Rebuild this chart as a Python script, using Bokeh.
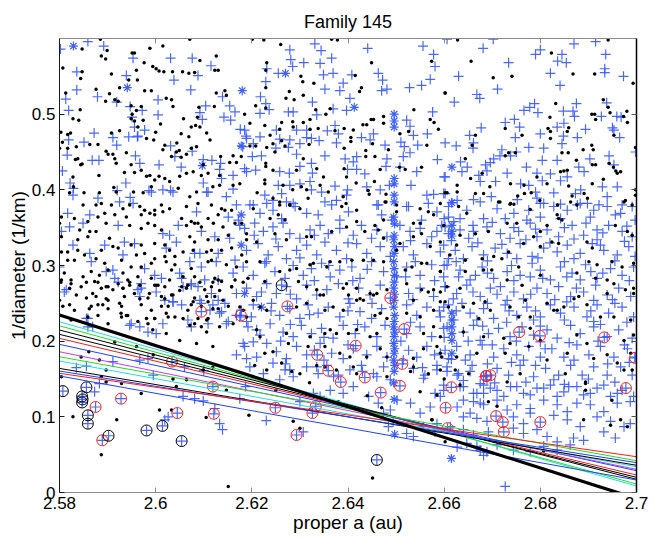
from bokeh.plotting import figure
from bokeh.models import Range1d, LinearAxis, FixedTicker
from bokeh.embed import file_html
from bokeh.resources import INLINE

TITLE = "Family 145"
X_LABEL = "proper a (au)"
Y_LABEL = "1/diameter (1/km)"
x_ticks = [2.58, 2.6, 2.62, 2.64, 2.66, 2.68, 2.7]
x_tick_labels = ["2.58", "2.6", "2.62", "2.64", "2.66", "2.68", "2.7"]
y_ticks = [0.0, 0.1, 0.2, 0.3, 0.4, 0.5]
y_tick_labels = ["0", "0.1", "0.2", "0.3", "0.4", "0.5"]

# ---- black dots (read region by region) ----
dots_top_left = [
(2.5885,0.599),(2.6071,0.599),(2.5847,0.586),(2.5899,0.584),(2.6015,0.590),(2.5988,0.587),(2.5951,0.581),(2.5956,0.581),
(2.5887,0.577),(2.5896,0.573),(2.5976,0.568),(2.6092,0.571),(2.6126,0.577),(2.6123,0.558),(2.6130,0.558),(2.5807,0.561),
(2.5847,0.556),(2.5844,0.547),(2.5908,0.553),(2.5960,0.558),(2.5994,0.563),(2.6001,0.560),(2.6007,0.557),(2.6017,0.556),
(2.6035,0.556),(2.6056,0.556),(2.6069,0.554),(2.6081,0.555),(2.5944,0.545),(2.5962,0.545),(2.5925,0.535),(2.5977,0.531),
(2.5991,0.531),(2.5813,0.528),(2.5876,0.533),(2.5904,0.527),(2.5896,0.517),(2.5915,0.519),(2.5922,0.517),(2.5949,0.511),
(2.5960,0.505),(2.5951,0.500),(2.5970,0.510),(2.6022,0.521),(2.6033,0.519),(2.6036,0.510),(2.6058,0.494),(2.6074,0.483),
(2.6083,0.485),(2.6087,0.496),(2.6090,0.509),(2.6122,0.510),(2.6126,0.528),(2.6144,0.531),(2.6147,0.525),(2.5843,0.506),
(2.5840,0.492),(2.5828,0.494),(2.5803,0.476),(2.5806,0.463),(2.5817,0.473),(2.5823,0.475),(2.5835,0.457),(2.5844,0.433),
(2.5847,0.434),(2.5833,0.440),(2.5800,0.455),(2.5817,0.455),(2.5838,0.441),(2.5863,0.460),(2.5880,0.460),(2.5897,0.451),
(2.5901,0.447),(2.5908,0.475),(2.5925,0.478),(2.5949,0.494),(2.5956,0.491),(2.5963,0.483),(2.5974,0.492),(2.5981,0.468),
(2.5996,0.466),(2.6000,0.476),(2.6010,0.487),(2.6015,0.453),(2.6019,0.459),(2.6043,0.450),(2.6033,0.444),(2.6044,0.462),
(2.6049,0.452),(2.6053,0.443),(2.6064,0.447),(2.6074,0.455),(2.6053,0.474),(2.6069,0.470),(2.6085,0.457),(2.6092,0.483),
(2.6106,0.475),(2.6113,0.466),(2.6135,0.444),(2.6154,0.436),(2.6161,0.445),(2.6168,0.436),(2.6178,0.444),(2.6099,0.433),
(2.6109,0.422),(2.6133,0.419),(2.5911,0.447),(2.5915,0.441),(2.5918,0.435),(2.5939,0.449),(2.5949,0.433),(2.5956,0.423),
(2.5935,0.423),(2.5970,0.426),(2.5981,0.418),(2.5988,0.419),(2.5998,0.413),(2.6007,0.418),(2.6019,0.415),(2.6029,0.411),
(2.6050,0.418),(2.6064,0.422),(2.6078,0.424),(2.6095,0.419),(2.5882,0.419),(2.5883,0.396),(2.5828,0.417),(2.5829,0.404),
(2.5821,0.396),(2.5851,0.396),(2.5913,0.403),(2.5918,0.397),(2.5954,0.397),(2.5974,0.396),(2.5991,0.404),(2.6047,0.402),
(2.6071,0.391),(2.6085,0.397),(2.6119,0.404),(2.6133,0.406),(2.6161,0.406),(2.6175,0.408),
]
dots_top_mid = [
(2.6201,0.599),(2.6225,0.598),(2.6260,0.592),(2.6366,0.599),(2.6378,0.598),(2.6231,0.568),(2.6229,0.558),(2.6229,0.535),
(2.6302,0.550),(2.6306,0.543),(2.6329,0.541),(2.6278,0.530),(2.6271,0.521),(2.6288,0.519),(2.6307,0.525),(2.6208,0.511),
(2.6185,0.500),(2.6229,0.508),(2.6262,0.489),(2.6285,0.490),(2.6307,0.489),(2.6321,0.493),(2.6333,0.506),(2.6363,0.507),
(2.6354,0.500),(2.6338,0.481),(2.6321,0.480),(2.6286,0.483),(2.6258,0.480),(2.6196,0.488),(2.6227,0.485),(2.6238,0.472),
(2.6244,0.461),(2.6262,0.465),(2.6269,0.458),(2.6248,0.450),(2.6196,0.458),(2.6208,0.458),(2.6231,0.456),(2.6373,0.478),
(2.6392,0.481),(2.6411,0.479),(2.6406,0.469),(2.6406,0.464),(2.6431,0.486),(2.6448,0.493),(2.6453,0.493),(2.6439,0.486),
(2.6474,0.497),(2.6474,0.488),(2.6415,0.551),(2.6424,0.530),(2.6428,0.535),(2.6449,0.568),(2.6537,0.506),(2.6571,0.493),
(2.6579,0.489),(2.6588,0.480),(2.6602,0.528),(2.6574,0.570),(2.6564,0.459),(2.6526,0.477),(2.6508,0.474),(2.6484,0.453),
(2.6451,0.461),(2.6437,0.452),(2.6437,0.444),(2.6456,0.444),(2.6392,0.455),(2.6319,0.460),(2.6307,0.441),(2.6229,0.435),
(2.6229,0.431),(2.6244,0.426),(2.6293,0.426),(2.6335,0.428),(2.6392,0.428),(2.6397,0.417),(2.6417,0.409),(2.6455,0.411),
(2.6467,0.427),(2.6507,0.430),(2.6519,0.427),(2.6553,0.430),(2.6227,0.413),(2.6227,0.408),(2.6265,0.406),(2.6285,0.400),
(2.6303,0.404),(2.6314,0.400),(2.6342,0.406),(2.6349,0.417),(2.6359,0.397),(2.6390,0.391),(2.6442,0.399),(2.6444,0.394),
(2.6479,0.394),(2.6501,0.380),(2.6479,0.384),(2.6211,0.396),(2.6244,0.389),(2.6258,0.384),(2.6279,0.380),(2.6317,0.389),
(2.6396,0.382),(2.6550,0.375),(2.6592,0.382),(2.6606,0.396),
]
dots_top_right = [
(2.6628,0.598),(2.6941,0.598),(2.6656,0.570),(2.6702,0.548),(2.6741,0.550),(2.6602,0.528),(2.6823,0.581),(2.6868,0.553),
(2.6913,0.553),(2.6993,0.541),(2.6931,0.519),(2.6941,0.509),(2.6945,0.502),(2.6973,0.497),(2.6980,0.504),(2.6981,0.489),
(2.6907,0.500),(2.6913,0.500),(2.6915,0.493),(2.6832,0.514),(2.6820,0.496),(2.6816,0.481),(2.6821,0.477),(2.6821,0.468),
(2.6856,0.477),(2.6859,0.482),(2.6727,0.481),(2.6762,0.472),(2.6665,0.472),(2.6658,0.459),(2.6734,0.449),(2.6727,0.445),
(2.6748,0.449),(2.6845,0.449),(2.6858,0.449),(2.6889,0.453),(2.6907,0.459),(2.6910,0.453),(2.6875,0.439),(2.6908,0.433),
(2.6915,0.433),(2.6943,0.435),(2.6952,0.430),(2.6957,0.425),(2.6960,0.422),(2.6967,0.424),(2.6998,0.456),(2.6953,0.472),
(2.6644,0.441),(2.6655,0.415),(2.6679,0.422),(2.6695,0.404),(2.6738,0.408),(2.6766,0.406),(2.6793,0.417),(2.6814,0.408),
(2.6842,0.424),(2.6849,0.425),(2.6856,0.426),(2.6859,0.405),(2.6908,0.408),(2.6931,0.414),(2.6627,0.406),(2.6627,0.397),
(2.6602,0.396),(2.6665,0.395),(2.6682,0.395),(2.6767,0.395),(2.6781,0.396),(2.6753,0.392),(2.6799,0.386),(2.6836,0.380),
(2.6866,0.392),(2.6891,0.395),(2.6898,0.389),(2.6977,0.386),(2.6998,0.400),(2.6998,0.393),(2.6738,0.382),(2.6716,0.384),
]
dots_mid_left = [
(2.5849,0.380),(2.5876,0.380),(2.5887,0.382),(2.5908,0.380),(2.5932,0.375),(2.5946,0.380),(2.5967,0.378),(2.5977,0.373),
(2.5998,0.373),(2.6012,0.380),(2.6029,0.375),(2.6064,0.378),(2.6088,0.382),(2.6116,0.380),(2.6137,0.375),(2.6158,0.373),
(2.5804,0.364),(2.5831,0.362),(2.5859,0.358),(2.5880,0.364),(2.5894,0.369),(2.5915,0.367),(2.5939,0.364),(2.5970,0.367),
(2.5988,0.369),(2.5998,0.367),(2.6015,0.371),(2.6054,0.362),(2.6074,0.358),(2.6088,0.356),(2.6109,0.362),(2.6130,0.367),
(2.6144,0.373),(2.5800,0.356),(2.5842,0.347),(2.5863,0.345),(2.5876,0.345),(2.5897,0.356),(2.5946,0.353),(2.5970,0.349),
(2.5984,0.356),(2.5998,0.353),(2.6012,0.347),(2.6064,0.353),(2.6081,0.356),(2.6095,0.351),(2.6120,0.356),(2.6140,0.351),
(2.6165,0.356),(2.6179,0.356),(2.5804,0.338),(2.5838,0.334),(2.5859,0.338),(2.5904,0.336),(2.5911,0.325),(2.5949,0.327),
(2.5970,0.327),(2.5998,0.329),(2.6019,0.327),(2.6029,0.320),(2.6071,0.338),(2.6081,0.331),(2.6109,0.334),(2.6130,0.334),
(2.6151,0.340),(2.5804,0.318),(2.5817,0.318),(2.5838,0.320),(2.5887,0.320),(2.5922,0.323),(2.5960,0.314),(2.5977,0.316),
(2.5998,0.309),(2.6019,0.312),(2.6040,0.312),(2.6057,0.318),(2.6078,0.320),(2.6106,0.318),(2.6116,0.320),(2.6137,0.320),
(2.6158,0.323),(2.6179,0.314),(2.5810,0.290),(2.5817,0.307),(2.5831,0.307),(2.5852,0.314),(2.5876,0.309),(2.5894,0.303),
(2.5929,0.307),(2.5949,0.298),(2.5970,0.298),(2.5991,0.303),(2.6022,0.305),(2.6040,0.301),(2.6074,0.296),(2.6109,0.305),
(2.6116,0.307),(2.6147,0.301),(2.6168,0.298),(2.5804,0.281),(2.5824,0.281),(2.5849,0.285),(2.5866,0.292),(2.5883,0.287),
(2.5901,0.294),(2.5932,0.290),(2.5942,0.281),(2.5963,0.285),(2.5991,0.283),(2.5998,0.274),(2.6005,0.274),(2.6029,0.281),
(2.6033,0.294),(2.6057,0.285),(2.6081,0.285),(2.6123,0.283),(2.6130,0.281),(2.6137,0.279),(2.6165,0.281),(2.5821,0.270),
(2.5845,0.272),(2.5873,0.279),(2.5887,0.270),(2.5901,0.272),(2.5911,0.268),(2.5922,0.276),(2.5932,0.270),(2.5946,0.274),
(2.6019,0.272),(2.6054,0.272),(2.6067,0.274),(2.6102,0.268),(2.6116,0.272),(2.6158,0.272),(2.5800,0.254),(2.5835,0.261),
(2.5856,0.257),(2.5876,0.259),(2.5901,0.254),(2.5935,0.259),(2.5956,0.263),(2.5984,0.257),(2.6012,0.259),(2.6033,0.261),
(2.6081,0.257),(2.6109,0.252),(2.6123,0.259),(2.5807,0.246),(2.5831,0.241),(2.5866,0.246),(2.5880,0.248),(2.5901,0.243),
(2.5929,0.246),(2.5970,0.248),(2.5991,0.241),(2.6012,0.246),(2.6026,0.246),(2.6067,0.241),(2.6074,0.248),(2.6095,0.246),
(2.6130,0.243),(2.6151,0.246),(2.5824,0.228),(2.5859,0.232),(2.5880,0.234),(2.5929,0.232),(2.5939,0.234),(2.5998,0.230),
(2.6026,0.232),(2.6040,0.232),(2.6088,0.230),(2.6109,0.230),(2.5901,0.223),(2.5963,0.226),(2.5984,0.223),(2.6081,0.223),
(2.6095,0.219),
]
dots_mid_centre = [
(2.6203,0.375),(2.6258,0.380),(2.6279,0.380),(2.6300,0.375),(2.6255,0.367),(2.6269,0.360),(2.6238,0.362),(2.6387,0.378),
(2.6418,0.373),(2.6418,0.358),(2.6456,0.353),(2.6477,0.384),(2.6474,0.360),(2.6501,0.371),(2.6536,0.356),(2.6550,0.356),
(2.6567,0.371),(2.6578,0.367),(2.6599,0.353),(2.6189,0.342),(2.6189,0.334),(2.6210,0.331),(2.6248,0.342),(2.6272,0.334),
(2.6314,0.338),(2.6324,0.338),(2.6366,0.345),(2.6397,0.351),(2.6435,0.345),(2.6463,0.347),(2.6474,0.336),(2.6501,0.320),
(2.6508,0.329),(2.6536,0.338),(2.6553,0.342),(2.6571,0.325),(2.6592,0.331),(2.6189,0.305),(2.6217,0.305),(2.6258,0.292),
(2.6279,0.294),(2.6293,0.296),(2.6321,0.301),(2.6328,0.303),(2.6356,0.298),(2.6363,0.305),(2.6383,0.305),(2.6408,0.307),
(2.6432,0.307),(2.6453,0.307),(2.6474,0.305),(2.6519,0.294),(2.6533,0.298),(2.6553,0.303),(2.6564,0.303),(2.6592,0.292),
(2.6192,0.283),(2.6227,0.279),(2.6297,0.279),(2.6314,0.272),(2.6335,0.268),(2.6342,0.261),(2.6349,0.261),(2.6397,0.276),
(2.6390,0.270),(2.6401,0.261),(2.6418,0.270),(2.6425,0.256),(2.6432,0.254),(2.6446,0.263),(2.6453,0.261),(2.6460,0.263),
(2.6481,0.268),(2.6522,0.276),(2.6536,0.254),(2.6553,0.268),(2.6567,0.265),(2.6578,0.268),(2.6592,0.265),(2.6182,0.241),
(2.6217,0.245),(2.6231,0.241),(2.6293,0.245),(2.6314,0.250),(2.6352,0.241),(2.6369,0.245),(2.6390,0.241),(2.6418,0.254),
(2.6456,0.234),(2.6467,0.237),(2.6481,0.230),(2.6522,0.237),(2.6550,0.232),(2.6578,0.241),(2.6592,0.252),(2.6609,0.245),
(2.6217,0.206),(2.6272,0.210),(2.6321,0.206),(2.6352,0.210),(2.6363,0.215),(2.6376,0.210),(2.6401,0.210),(2.6418,0.215),
(2.6446,0.206),(2.6460,0.210),(2.6557,0.210),(2.6578,0.219),(2.6592,0.206),(2.6227,0.184),(2.6244,0.186),(2.6276,0.197),
(2.6317,0.193),(2.6352,0.193),(2.6383,0.184),(2.6404,0.179),(2.6439,0.179),(2.6467,0.190),(2.6481,0.179),(2.6536,0.177),
(2.6557,0.190),(2.6585,0.193),(2.6595,0.179),(2.6206,0.168),(2.6231,0.162),(2.6262,0.171),(2.6283,0.160),(2.6300,0.157),
(2.6335,0.168),(2.6352,0.166),(2.6376,0.162),(2.6411,0.166),(2.6418,0.157),(2.6481,0.153),(2.6536,0.166),(2.6567,0.157),
(2.6592,0.162),
]
dots_mid_right = [
(2.6630,0.378),(2.6647,0.369),(2.6713,0.384),(2.6737,0.381),(2.6745,0.381),(2.6779,0.374),(2.6835,0.367),(2.6838,0.362),
(2.6845,0.360),(2.6863,0.384),(2.6876,0.380),(2.6974,0.384),(2.6991,0.380),(2.6956,0.353),(2.6981,0.345),(2.6991,0.340),
(2.6633,0.340),(2.6665,0.342),(2.6692,0.345),(2.6731,0.356),(2.6751,0.356),(2.6786,0.338),(2.6800,0.345),(2.6814,0.353),
(2.6824,0.331),(2.6838,0.329),(2.6765,0.329),(2.6800,0.325),(2.6897,0.331),(2.6908,0.323),(2.6626,0.327),(2.6612,0.314),
(2.6644,0.307),(2.6679,0.309),(2.6703,0.312),(2.6734,0.318),(2.6755,0.298),(2.6720,0.309),(2.6901,0.305),(2.6918,0.301),
(2.6949,0.305),(2.6970,0.298),(2.6994,0.303),(2.6592,0.292),(2.6644,0.292),(2.6682,0.294),(2.6699,0.294),(2.6731,0.281),
(2.6762,0.274),(2.6800,0.287),(2.6876,0.290),(2.6915,0.283),(2.6939,0.281),(2.6953,0.276),(2.6977,0.268),(2.6994,0.270),
(2.6606,0.272),(2.6633,0.270),(2.6685,0.252),(2.6661,0.250),(2.6602,0.252),(2.6769,0.254),(2.6814,0.250),(2.6870,0.256),
(2.6880,0.259),(2.6897,0.248),(2.6939,0.263),(2.6994,0.263),(2.6640,0.245),(2.6696,0.241),(2.6737,0.245),(2.6755,0.232),
(2.6779,0.232),(2.6828,0.241),(2.6835,0.241),(2.6849,0.245),(2.6925,0.232),(2.6953,0.232),(2.6988,0.228),(2.6672,0.230),
(2.6640,0.212),(2.6682,0.206),(2.6724,0.204),(2.6737,0.197),(2.6779,0.217),(2.6800,0.201),(2.6776,0.193),(2.6876,0.208),
(2.6897,0.197),(2.6974,0.201),(2.6994,0.208),(2.6592,0.184),(2.6626,0.179),(2.6668,0.184),(2.6727,0.184),(2.6814,0.175),
(2.6856,0.184),(2.6911,0.177),(2.6939,0.182),(2.6960,0.171),(2.6988,0.184),(2.6623,0.162),(2.6651,0.157),(2.6731,0.146),
(2.6758,0.157),(2.6852,0.157),(2.6894,0.144),(2.6974,0.162),(2.6991,0.162),
]
dots_low = [
(2.5803,0.278),(2.5824,0.276),(2.5856,0.278),(2.5880,0.278),(2.5897,0.272),(2.5932,0.270),(2.5946,0.278),(2.5967,0.274),
(2.6001,0.274),(2.6064,0.270),(2.6092,0.278),(2.6119,0.278),(2.6133,0.267),(2.6158,0.272),(2.6182,0.278),(2.5869,0.263),
(2.5897,0.256),(2.5925,0.250),(2.5967,0.256),(2.5987,0.263),(2.6019,0.256),(2.6036,0.261),(2.6050,0.267),(2.6078,0.252),
(2.6106,0.259),(2.6119,0.243),(2.6140,0.254),(2.6175,0.245),(2.6203,0.254),(2.5821,0.248),(2.5862,0.243),(2.5890,0.248),
(2.5928,0.237),(2.5942,0.234),(2.5981,0.230),(2.5998,0.230),(2.6022,0.237),(2.6057,0.230),(2.6071,0.221),(2.6106,0.228),
(2.6133,0.219),(2.6161,0.223),(2.6189,0.232),(2.6210,0.215),(2.5994,0.215),(2.6022,0.210),(2.6050,0.201),(2.6085,0.197),
(2.6119,0.193),(2.6106,0.212),
(2.5828,0.100),(2.5887,0.050),(2.5919,0.096),(2.6033,0.109),(2.6105,0.099),(2.6151,0.008),(2.6194,0.102),(2.5861,0.186),
(2.5845,0.179),(2.5883,0.175),(2.5897,0.162),(2.5915,0.199),(2.5960,0.193),(2.5995,0.182),(2.5887,0.153),(2.5897,0.146),
(2.6064,0.149),(2.6099,0.162),(2.6119,0.166),(2.6147,0.135),(2.6043,0.140),(2.6036,0.150),(2.5970,0.131),(2.6008,0.109),
(2.5804,0.153),(2.5929,0.144),
(2.6286,0.094),(2.6300,0.085),(2.6451,0.019),(2.6575,0.096),(2.6602,0.067),(2.6530,0.160),(2.6440,0.128),(2.6380,0.120),
(2.6600,0.150),(2.6250,0.135),(2.6320,0.145),(2.6470,0.112),(2.6550,0.133),
(2.6633,0.142),(2.6894,0.146),(2.6894,0.135),(2.6710,0.114),(2.6692,0.120),(2.6574,0.096),(2.6807,0.055),(2.6890,0.096),
(2.6946,0.089),(2.6967,0.096),(2.6981,0.087),(2.6949,0.122),(2.6585,0.129),
]

# ---- blue plus markers ----
plus_top_left = [
(2.5802,0.586),(2.5859,0.596),(2.5892,0.590),(2.5953,0.574),(2.6031,0.574),(2.6076,0.574),(2.6115,0.564),(2.6088,0.551),
(2.5836,0.556),(2.5836,0.532),(2.5813,0.520),(2.5819,0.505),(2.5939,0.551),(2.6038,0.545),(2.6073,0.532),(2.6005,0.519),
(2.5879,0.523),(2.5919,0.516),(2.5947,0.510),(2.5972,0.505),(2.5951,0.496),(2.5956,0.483),(2.5977,0.479),(2.5963,0.471),
(2.6005,0.499),(2.6092,0.502),(2.6097,0.493),(2.6104,0.511),(2.6139,0.523),(2.6154,0.511),(2.6165,0.503),(2.6142,0.496),
(2.6156,0.492),(2.6176,0.480),(2.6188,0.471),(2.6181,0.457),(2.5872,0.475),(2.5851,0.463),(2.5819,0.466),(2.5816,0.446),
(2.5806,0.425),(2.5868,0.439),(2.5882,0.439),(2.5911,0.469),(2.5919,0.459),(2.5944,0.470),(2.5962,0.470),(2.5958,0.445),
(2.5967,0.435),(2.6007,0.433),(2.6031,0.458),(2.6040,0.444),(2.6053,0.430),(2.6076,0.451),(2.6099,0.440),(2.6117,0.439),
(2.6135,0.435),(2.6133,0.427),(2.6137,0.415),(2.6099,0.409),(2.6106,0.397),(2.5822,0.409),(2.5829,0.402),(2.5920,0.399),
(2.5938,0.409),(2.5947,0.390),(2.5986,0.399),(2.6015,0.400),(2.6031,0.399),(2.6161,0.419),(2.6161,0.401),(2.6189,0.424),
]
plus_top_mid = [
(2.6279,0.585),(2.6331,0.593),(2.6344,0.584),(2.6281,0.572),(2.6285,0.563),(2.6308,0.568),(2.6342,0.567),(2.6366,0.574),
(2.6231,0.560),(2.6255,0.554),(2.6349,0.552),(2.6369,0.554),(2.6408,0.552),(2.6390,0.541),(2.6352,0.533),(2.6383,0.531),
(2.6229,0.543),(2.6404,0.521),(2.6441,0.587),(2.6463,0.554),(2.6472,0.545),(2.6470,0.531),(2.6481,0.533),(2.6528,0.535),
(2.6553,0.538),(2.6571,0.546),(2.6578,0.579),(2.6581,0.563),(2.6556,0.590),(2.6218,0.523),(2.6229,0.514),(2.6236,0.506),
(2.6217,0.501),(2.6326,0.516),(2.6286,0.503),(2.6276,0.503),(2.6335,0.499),(2.6369,0.507),(2.6397,0.505),(2.6251,0.479),
(2.6293,0.479),(2.6314,0.479),(2.6357,0.478),(2.6373,0.485),(2.6380,0.474),(2.6428,0.469),(2.6453,0.474),(2.6446,0.466),
(2.6522,0.492),(2.6529,0.484),(2.6536,0.472),(2.6565,0.474),(2.6576,0.503),(2.6510,0.463),(2.6477,0.459),(2.6517,0.457),
(2.6545,0.459),(2.6185,0.479),(2.6189,0.468),(2.6217,0.470),(2.6203,0.461),(2.6258,0.467),(2.6279,0.466),(2.6314,0.469),
(2.6324,0.468),(2.6340,0.465),(2.6376,0.462),(2.6250,0.455),(2.6276,0.456),(2.6293,0.447),(2.6300,0.461),(2.6201,0.444),
(2.6220,0.445),(2.6352,0.445),(2.6394,0.441),(2.6411,0.437),(2.6418,0.444),(2.6481,0.441),(2.6515,0.444),(2.6529,0.449),
(2.6185,0.428),(2.6208,0.426),(2.6258,0.424),(2.6278,0.422),(2.6300,0.431),(2.6324,0.435),(2.6326,0.422),(2.6399,0.427),
(2.6418,0.427),(2.6435,0.421),(2.6479,0.431),(2.6508,0.430),(2.6543,0.424),(2.6586,0.440),(2.6600,0.417),(2.6255,0.406),
(2.6279,0.406),(2.6300,0.408),(2.6321,0.411),(2.6324,0.400),(2.6345,0.397),(2.6373,0.405),(2.6399,0.400),(2.6439,0.404),
(2.6467,0.400),(2.6486,0.406),(2.6531,0.406),(2.6564,0.393),(2.6578,0.394),(2.6599,0.395),(2.6227,0.393),(2.6231,0.382),
(2.6244,0.386),(2.6262,0.395),(2.6272,0.384),(2.6286,0.382),(2.6352,0.384),(2.6376,0.386),(2.6397,0.393),(2.6460,0.380),
(2.6522,0.378),(2.6567,0.382),(2.6203,0.380),
]
plus_top_right = [
(2.6606,0.599),(2.6702,0.599),(2.6681,0.587),(2.6734,0.568),(2.6630,0.550),(2.6668,0.526),(2.6674,0.521),(2.6711,0.533),
(2.6621,0.516),(2.6870,0.593),(2.6915,0.596),(2.6936,0.579),(2.6934,0.560),(2.6934,0.555),(2.6973,0.550),(2.6790,0.579),
(2.6800,0.585),(2.6845,0.579),(2.6836,0.570),(2.6854,0.568),(2.6821,0.554),(2.6841,0.538),(2.6788,0.514),(2.6766,0.505),
(2.6778,0.509),(2.6795,0.502),(2.6848,0.504),(2.6868,0.504),(2.6871,0.497),(2.6875,0.514),(2.6938,0.515),(2.6927,0.497),
(2.6959,0.497),(2.6968,0.496),(2.6746,0.493),(2.6727,0.489),(2.6757,0.483),(2.6677,0.482),(2.6748,0.469),(2.6800,0.474),
(2.6835,0.483),(2.6849,0.488),(2.6848,0.471),(2.6845,0.461),(2.6877,0.469),(2.6894,0.480),(2.6950,0.482),(2.6953,0.479),
(2.6965,0.469),(2.6943,0.445),(2.6653,0.472),(2.6661,0.462),(2.6660,0.455),(2.6602,0.462),(2.6625,0.458),(2.6720,0.453),
(2.6750,0.450),(2.6738,0.445),(2.6776,0.456),(2.6807,0.455),(2.6804,0.439),(2.6835,0.439),(2.6716,0.445),(2.6703,0.441),
(2.6696,0.436),(2.6686,0.433),(2.6634,0.437),(2.6648,0.430),(2.6637,0.424),(2.6689,0.425),(2.6672,0.419),(2.6731,0.422),
(2.6771,0.430),(2.6793,0.422),(2.6804,0.412),(2.6821,0.421),(2.6842,0.412),(2.6856,0.417),(2.6880,0.430),(2.6891,0.424),
(2.6903,0.441),(2.6953,0.433),(2.6960,0.404),(2.6929,0.404),(2.6884,0.400),(2.6873,0.395),(2.6602,0.417),(2.6675,0.411),
(2.6707,0.411),(2.6759,0.408),(2.6776,0.406),(2.6790,0.397),(2.6828,0.396),(2.6602,0.395),(2.6627,0.386),(2.6661,0.387),
(2.6698,0.391),(2.6752,0.387),(2.6793,0.389),(2.6807,0.382),(2.6842,0.381),(2.6877,0.380),(2.6898,0.382),(2.6922,0.380),
(2.6939,0.391),(2.6970,0.380),(2.6998,0.450),(2.6609,0.378),
]
plus_mid_left = [
(2.5828,0.393),(2.5880,0.389),(2.5925,0.384),(2.5953,0.382),(2.5991,0.397),(2.6036,0.397),(2.6109,0.397),(2.6147,0.391),
(2.6168,0.380),(2.5817,0.369),(2.5863,0.367),(2.5804,0.345),(2.5821,0.351),(2.5849,0.356),(2.5922,0.353),(2.6047,0.353),
(2.6085,0.371),(2.6095,0.345),(2.6151,0.364),(2.6172,0.360),(2.6175,0.353),(2.6123,0.338),(2.6154,0.336),(2.5894,0.327),
(2.5935,0.331),(2.5956,0.329),(2.5828,0.327),(2.5863,0.316),(2.5932,0.314),(2.5866,0.305),(2.6015,0.342),(2.6029,0.340),
(2.6043,0.331),(2.6022,0.323),(2.6081,0.316),(2.6092,0.316),(2.6130,0.316),(2.6071,0.305),(2.6095,0.298),(2.6126,0.305),
(2.6165,0.307),(2.5800,0.298),(2.5897,0.292),(2.5911,0.294),(2.5915,0.283),(2.5977,0.296),(2.5998,0.287),(2.6012,0.283),
(2.6050,0.290),(2.6054,0.283),(2.6074,0.276),(2.6102,0.281),(2.6130,0.281),(2.6161,0.290),(2.5814,0.268),(2.5963,0.268),
(2.5970,0.276),(2.5967,0.259),(2.6019,0.254),(2.6036,0.252),(2.6054,0.248),(2.6088,0.272),(2.6116,0.263),(2.6130,0.254),
(2.6168,0.263),(2.6095,0.250),(2.6144,0.250),(2.6113,0.241),(2.6137,0.239),(2.5856,0.230),(2.5949,0.223),(2.6067,0.228),
(2.6109,0.223),(2.6151,0.226),(2.6168,0.234),(2.6074,0.219),(2.5859,0.219),
]
plus_mid_centre = [
(2.6196,0.380),(2.6217,0.369),(2.6244,0.373),(2.6262,0.362),(2.6290,0.378),(2.6314,0.369),(2.6338,0.367),(2.6366,0.380),
(2.6383,0.360),(2.6401,0.371),(2.6463,0.380),(2.6470,0.367),(2.6491,0.360),(2.6526,0.378),(2.6553,0.360),(2.6585,0.371),
(2.6600,0.362),(2.6185,0.349),(2.6206,0.356),(2.6224,0.345),(2.6244,0.351),(2.6265,0.356),(2.6279,0.342),(2.6300,0.336),
(2.6321,0.347),(2.6342,0.353),(2.6359,0.342),(2.6383,0.349),(2.6411,0.340),(2.6428,0.353),(2.6449,0.336),(2.6460,0.347),
(2.6481,0.338),(2.6508,0.353),(2.6529,0.345),(2.6550,0.349),(2.6574,0.338),(2.6595,0.353),(2.6609,0.342),(2.6189,0.320),
(2.6213,0.329),(2.6234,0.314),(2.6255,0.325),(2.6272,0.309),(2.6293,0.320),(2.6314,0.327),(2.6335,0.314),(2.6352,0.331),
(2.6376,0.320),(2.6397,0.309),(2.6418,0.329),(2.6439,0.316),(2.6467,0.325),(2.6488,0.312),(2.6515,0.325),(2.6536,0.314),
(2.6564,0.329),(2.6592,0.318),(2.6609,0.309),(2.6182,0.298),(2.6203,0.287),(2.6227,0.303),(2.6248,0.292),(2.6269,0.283),
(2.6286,0.300),(2.6307,0.287),(2.6324,0.296),(2.6345,0.303),(2.6363,0.285),(2.6383,0.294),(2.6408,0.298),(2.6425,0.283),
(2.6449,0.305),(2.6474,0.292),(2.6501,0.285),(2.6522,0.298),(2.6550,0.287),(2.6574,0.301),(2.6599,0.285),(2.6189,0.270),
(2.6210,0.259),(2.6231,0.276),(2.6251,0.263),(2.6272,0.272),(2.6293,0.256),(2.6314,0.274),(2.6335,0.261),(2.6356,0.268),
(2.6380,0.276),(2.6401,0.256),(2.6422,0.270),(2.6446,0.261),(2.6467,0.274),(2.6526,0.263),(2.6550,0.270),(2.6578,0.259),
(2.6602,0.272),(2.6178,0.241),(2.6199,0.232),(2.6241,0.250),(2.6258,0.234),(2.6279,0.243),(2.6300,0.230),(2.6317,0.248),
(2.6338,0.237),(2.6359,0.245),(2.6383,0.232),(2.6404,0.250),(2.6425,0.239),(2.6449,0.230),(2.6470,0.243),(2.6522,0.248),
(2.6543,0.234),(2.6564,0.245),(2.6592,0.232),(2.6609,0.248),(2.6192,0.219),(2.6217,0.208),(2.6238,0.223),(2.6265,0.212),
(2.6286,0.206),(2.6303,0.221),(2.6324,0.210),(2.6345,0.217),(2.6369,0.204),(2.6390,0.221),(2.6415,0.210),(2.6435,0.219),
(2.6460,0.206),(2.6477,0.221),(2.6522,0.210),(2.6550,0.219),(2.6574,0.206),(2.6599,0.217),(2.6185,0.193),(2.6210,0.179),
(2.6231,0.197),(2.6251,0.186),(2.6272,0.177),(2.6293,0.193),(2.6314,0.182),(2.6342,0.197),(2.6366,0.184),(2.6390,0.177),
(2.6411,0.190),(2.6439,0.182),(2.6460,0.193),(2.6481,0.179),(2.6526,0.188),(2.6543,0.179),(2.6564,0.193),(2.6592,0.184),
(2.6609,0.177),(2.6196,0.166),(2.6224,0.157),(2.6244,0.171),(2.6269,0.162),(2.6286,0.153),(2.6314,0.166),(2.6338,0.157),
(2.6356,0.168),(2.6380,0.155),(2.6404,0.162),(2.6428,0.168),(2.6453,0.157),(2.6474,0.166),(2.6536,0.164),(2.6560,0.155),
(2.6585,0.168),(2.6606,0.160),
(2.6205,0.340),(2.6250,0.335),(2.6330,0.340),(2.6400,0.330),(2.6530,0.333),(2.6585,0.345),(2.6230,0.305),(2.6300,0.310),
(2.6360,0.300),(2.6440,0.295),(2.6540,0.305),(2.6600,0.300),(2.6220,0.265),(2.6280,0.262),(2.6330,0.280),(2.6410,0.280),
(2.6520,0.285),(2.6580,0.280),(2.6240,0.240),(2.6320,0.235),(2.6400,0.240),(2.6450,0.250),(2.6535,0.255),(2.6590,0.240),
(2.6210,0.215),(2.6280,0.222),(2.6350,0.205),(2.6420,0.222),(2.6530,0.225),(2.6600,0.205),(2.6260,0.200),(2.6330,0.188),
(2.6400,0.195),(2.6510,0.200),(2.6580,0.182),(2.6270,0.170),(2.6350,0.175),(2.6430,0.160),(2.6515,0.175),(2.6555,0.165),
]
plus_mid_right = [
(2.6616,0.383),(2.6647,0.373),(2.6675,0.384),(2.6710,0.375),(2.6745,0.369),(2.6776,0.373),(2.6800,0.382),(2.6828,0.378),
(2.6856,0.373),(2.6883,0.382),(2.6911,0.373),(2.6939,0.378),(2.6967,0.369),(2.6991,0.378),(2.6997,0.360),(2.6609,0.364),
(2.6633,0.362),(2.6682,0.362),(2.6727,0.362),(2.6772,0.360),(2.6800,0.364),(2.6842,0.362),(2.6904,0.364),(2.6956,0.367),
(2.6602,0.351),(2.6633,0.347),(2.6661,0.345),(2.6689,0.351),(2.6717,0.342),(2.6755,0.345),(2.6779,0.356),(2.6814,0.347),
(2.6838,0.338),(2.6866,0.353),(2.6890,0.340),(2.6918,0.347),(2.6942,0.353),(2.6970,0.345),(2.6991,0.338),(2.6651,0.336),
(2.6737,0.336),(2.6793,0.338),(2.6918,0.334),(2.6599,0.327),(2.6623,0.320),(2.6658,0.325),(2.6682,0.314),(2.6706,0.323),
(2.6731,0.316),(2.6758,0.329),(2.6783,0.312),(2.6807,0.323),(2.6835,0.318),(2.6856,0.327),(2.6883,0.316),(2.6908,0.329),
(2.6932,0.320),(2.6960,0.314),(2.6984,0.325),(2.6997,0.312),(2.6640,0.309),(2.6751,0.309),(2.6870,0.309),(2.6606,0.301),
(2.6633,0.294),(2.6665,0.287),(2.6679,0.298),(2.6703,0.283),(2.6731,0.292),(2.6758,0.287),(2.6783,0.303),(2.6800,0.294),
(2.6821,0.281),(2.6842,0.298),(2.6866,0.290),(2.6894,0.301),(2.6918,0.283),(2.6946,0.296),(2.6970,0.287),(2.6994,0.298),
(2.6654,0.281),(2.6779,0.285),(2.6883,0.281),(2.6602,0.272),(2.6626,0.263),(2.6647,0.274),(2.6675,0.259),(2.6696,0.270),
(2.6717,0.272),(2.6745,0.265),(2.6765,0.256),(2.6793,0.270),(2.6814,0.263),(2.6838,0.272),(2.6863,0.259),(2.6890,0.265),
(2.6915,0.274),(2.6939,0.261),(2.6963,0.270),(2.6988,0.259),(2.6619,0.256),(2.6731,0.254),(2.6911,0.254),(2.6599,0.245),
(2.6637,0.250),(2.6654,0.237),(2.6682,0.243),(2.6703,0.230),(2.6727,0.248),(2.6751,0.234),(2.6772,0.245),(2.6800,0.232),
(2.6821,0.248),(2.6842,0.237),(2.6870,0.245),(2.6897,0.232),(2.6918,0.248),(2.6942,0.237),(2.6970,0.245),(2.6994,0.232),
(2.6668,0.228),(2.6786,0.228),(2.6911,0.226),(2.6606,0.219),(2.6640,0.212),(2.6661,0.221),(2.6692,0.210),(2.6713,0.217),
(2.6737,0.206),(2.6762,0.219),(2.6786,0.208),(2.6814,0.215),(2.6835,0.204),(2.6863,0.221),(2.6883,0.210),(2.6911,0.219),
(2.6939,0.206),(2.6963,0.215),(2.6991,0.204),(2.6675,0.201),(2.6800,0.199),(2.6602,0.188),(2.6626,0.193),(2.6654,0.182),
(2.6679,0.195),(2.6703,0.179),(2.6724,0.190),(2.6751,0.182),(2.6776,0.193),(2.6800,0.179),(2.6824,0.190),(2.6849,0.179),
(2.6876,0.195),(2.6901,0.182),(2.6925,0.193),(2.6953,0.179),(2.6981,0.190),(2.6997,0.179),(2.6644,0.175),(2.6765,0.175),
(2.6606,0.166),(2.6630,0.157),(2.6658,0.168),(2.6682,0.153),(2.6710,0.164),(2.6734,0.155),(2.6758,0.168),(2.6786,0.153),
(2.6811,0.164),(2.6838,0.155),(2.6863,0.168),(2.6887,0.155),(2.6911,0.166),(2.6939,0.155),(2.6967,0.166),(2.6991,0.155),
(2.6689,0.149),(2.6828,0.149),(2.6599,0.135),(2.6633,0.140),(2.6668,0.131),(2.6696,0.138),(2.6724,0.127),(2.6751,0.140),
(2.6779,0.129),(2.6807,0.138),(2.6835,0.127),(2.6859,0.140),(2.6890,0.129),(2.6918,0.138),(2.6946,0.127),(2.6970,0.135),
(2.6994,0.127),
(2.6620,0.358),(2.6660,0.353),(2.6700,0.357),(2.6745,0.350),(2.6790,0.348),(2.6850,0.350),(2.6895,0.356),(2.6930,0.343),
(2.6980,0.352),(2.6615,0.333),(2.6670,0.330),(2.6720,0.328),(2.6770,0.334),(2.6820,0.330),(2.6870,0.335),(2.6925,0.327),
(2.6975,0.332),(2.6625,0.305),(2.6690,0.306),(2.6740,0.300),(2.6795,0.310),(2.6850,0.305),(2.6905,0.292),(2.6955,0.306),
(2.6630,0.285),(2.6690,0.290),(2.6745,0.280),(2.6805,0.283),(2.6855,0.285),(2.6930,0.290),(2.6985,0.280),(2.6660,0.265),
(2.6710,0.262),(2.6780,0.262),(2.6830,0.255),(2.6875,0.270),(2.6950,0.255),(2.6625,0.240),(2.6690,0.250),(2.6735,0.240),
(2.6790,0.240),(2.6855,0.252),(2.6905,0.240),(2.6955,0.250),(2.6620,0.228),(2.6680,0.220),(2.6730,0.225),(2.6800,0.220),
(2.6850,0.228),(2.6925,0.222),(2.6980,0.225),(2.6650,0.200),(2.6700,0.195),(2.6750,0.200),(2.6810,0.190),(2.6860,0.198),
(2.6920,0.200),(2.6975,0.195),(2.6615,0.176),(2.6690,0.170),(2.6740,0.172),(2.6790,0.168),(2.6870,0.175),(2.6940,0.170),
(2.6985,0.172),(2.6640,0.148),(2.6705,0.145),(2.6770,0.146),(2.6850,0.143),(2.6900,0.150),(2.6955,0.146),
]
plus_low = [
(2.5810,0.265),(2.5859,0.230),(2.5922,0.278),(2.5970,0.270),(2.6001,0.265),(2.6057,0.272),(2.6074,0.274),(2.6092,0.254),
(2.6119,0.248),(2.6133,0.237),(2.6147,0.223),(2.6175,0.232),(2.6189,0.226),(2.6203,0.248),(2.6203,0.199),(2.6182,0.197),
(2.6168,0.182),(2.6189,0.177),(2.5984,0.212),(2.6001,0.210),(2.6015,0.223),(2.6036,0.252),(2.5946,0.221),(2.5967,0.219),
(2.5835,0.165),(2.5856,0.167),(2.5883,0.144),(2.5873,0.133),(2.5995,0.155),(2.5967,0.175),(2.5984,0.177),(2.6060,0.166),
(2.6100,0.161),(2.6081,0.124),(2.6099,0.121),(2.6175,0.124),(2.6187,0.140),(2.6026,0.100),(2.6019,0.096),(2.6123,0.111),
(2.6133,0.091),(2.6139,0.083),(2.6057,0.127),(2.5911,0.173),(2.5869,0.219),
(2.6230,0.095),(2.6307,0.080),(2.6484,0.087),(2.6494,0.094),(2.6522,0.078),(2.6536,0.074),(2.6557,0.087),(2.6581,0.080),
(2.6585,0.091),(2.6613,0.087),(2.6627,0.060),(2.6647,0.065),(2.6675,0.056),(2.6682,0.049),(2.6300,0.120),(2.6328,0.131),
(2.6342,0.127),(2.6363,0.135),(2.6390,0.131),(2.6411,0.140),(2.6443,0.127),(2.6463,0.118),(2.6474,0.105),(2.6488,0.109),
(2.6502,0.122),(2.6530,0.118),(2.6550,0.105),(2.6571,0.113),(2.6592,0.127),(2.6627,0.113),(2.6640,0.122),(2.6654,0.105),
(2.6675,0.118),(2.6682,0.131),(2.6460,0.153),(2.6488,0.149),(2.6557,0.151),(2.6585,0.162),(2.6627,0.155),(2.6654,0.160),
(2.6675,0.144),(2.6370,0.153),(2.6335,0.166),(2.6279,0.162),(2.6258,0.149),
(2.6581,0.131),(2.6599,0.142),(2.6640,0.140),(2.6661,0.131),(2.6682,0.142),(2.6710,0.135),(2.6738,0.140),(2.6765,0.131),
(2.6793,0.138),(2.6821,0.142),(2.6849,0.133),(2.6876,0.140),(2.6904,0.131),(2.6932,0.142),(2.6960,0.131),(2.6661,0.120),
(2.6682,0.116),(2.6710,0.122),(2.6731,0.109),(2.6751,0.116),(2.6779,0.111),(2.6807,0.122),(2.6835,0.116),(2.6856,0.107),
(2.6876,0.118),(2.6904,0.116),(2.6932,0.107),(2.6960,0.118),(2.6987,0.120),(2.6640,0.100),(2.6668,0.098),(2.6689,0.094),
(2.6744,0.100),(2.6765,0.091),(2.6779,0.105),(2.6828,0.102),(2.6856,0.096),(2.6883,0.087),(2.6918,0.100),(2.6946,0.094),
(2.6974,0.087),(2.6640,0.083),(2.6661,0.076),(2.6692,0.080),(2.6744,0.085),(2.6765,0.078),(2.6793,0.083),(2.6814,0.074),
(2.6835,0.067),(2.6869,0.072),(2.6890,0.069),(2.6932,0.080),(2.6956,0.072),(2.6987,0.091),(2.6668,0.061),(2.6689,0.054),
(2.6710,0.063),(2.6744,0.056),(2.6779,0.054),(2.6807,0.061),(2.6835,0.056),(2.6862,0.063),(2.6727,0.008),
]

# ---- blue asterisks ----
stars = [
(2.5829,0.590),(2.5941,0.535),(2.6180,0.531),(2.6178,0.458),(2.6097,0.432),(2.6270,0.554),(2.6413,0.509),(2.6616,0.430),
(2.6616,0.383),(2.6178,0.367),(2.6185,0.263),(2.6220,0.245),(2.6178,0.327),
(2.6496,0.500),(2.6496,0.491),(2.6496,0.483),(2.6496,0.415),(2.6496,0.408),(2.6496,0.393),(2.6496,0.384),(2.6495,0.364),
(2.6497,0.355),(2.6496,0.340),(2.6495,0.334),(2.6497,0.325),(2.6496,0.316),(2.6495,0.305),(2.6496,0.296),(2.6497,0.287),
(2.6496,0.278),(2.6495,0.270),(2.6497,0.262),(2.6496,0.254),(2.6495,0.245),(2.6497,0.234),(2.6496,0.226),(2.6495,0.219),
(2.6497,0.212),(2.6496,0.206),(2.6495,0.197),(2.6497,0.190),(2.6496,0.184),(2.6495,0.175),(2.6497,0.168),(2.6496,0.160),
(2.6495,0.145),(2.6496,0.123),(2.6497,0.077),
(2.6616,0.353),(2.6616,0.345),(2.6616,0.339),(2.6616,0.237),(2.6616,0.228),(2.6616,0.219),(2.6616,0.210),(2.6616,0.201),
(2.6616,0.184),(2.6615,0.045),
]

# ---- ringed objects (each also carries a blue plus) ----
red_rings = [
(2.6095,0.239),(2.6177,0.234),(2.6034,0.173),(2.6119,0.140),(2.5875,0.113),(2.5928,0.124),(2.6045,0.105),(2.6121,0.104),
(2.5889,0.069),(2.6359,0.161),(2.6385,0.146),(2.6435,0.152),(2.6468,0.132),(2.6508,0.141),(2.6513,0.170),(2.6615,0.139),
(2.6687,0.154),(2.6603,0.112),(2.6607,0.085),(2.6249,0.112),(2.6326,0.105),(2.6293,0.076),(2.6333,0.114),(2.6708,0.101),
(2.6722,0.093),(2.6724,0.080),(2.6800,0.093),(2.6978,0.138),(2.6274,0.246),(2.6488,0.257),(2.6517,0.216),(2.6416,0.194),
(2.6336,0.182),(2.6756,0.212),(2.6799,0.207),(2.6933,0.205),(2.6997,0.178),(2.6688,0.154),(2.6696,0.155),
]
black_rings = [
(2.5807,0.134),(2.5856,0.139),(2.5847,0.127),(2.5848,0.123),(2.5847,0.119),(2.5859,0.102),(2.5859,0.091),(2.5902,0.075),
(2.5981,0.082),(2.6014,0.088),(2.6054,0.068),(2.6262,0.274),(2.6460,0.043),
]

# ---- fitted boundary lines ----
line_x = [2.58, 2.70]
fan_colors = ["#22dddd", "#22dd22", "#000000", "#000000", "#ff1a1a", "#2040ff", "#c23cf0",
              "#22dd22", "#22dddd", "#000000", "#2040ff", "#ff1a1a", "#2040ff"]
fan_left = [0.2256, 0.2203, 0.2147, 0.2090, 0.2037, 0.1958, 0.1860, 0.1794, 0.1737, 0.1640, 0.1605, 0.1575, 0.1540]
fan_right = [0.0086, 0.0112, 0.0174, 0.0200, 0.0231, 0.0288, 0.0306, 0.0420, 0.0340, 0.0360, 0.0394, 0.0473, 0.0165]
cut_y = [0.2345, -0.0080]

BLUE = "#3658ff"

def xs(pts):
    return [pt[0] for pt in pts]

def ys(pts):
    return [pt[1] for pt in pts]

dots = dots_top_left + dots_top_mid + dots_top_right + dots_mid_left + dots_mid_centre + dots_mid_right + dots_low
pluses = plus_top_left + plus_top_mid + plus_top_right + plus_mid_left + plus_mid_centre + plus_mid_right + plus_low
ringed = red_rings + black_rings

FONT = "Liberation Sans"

p = figure(width=650, height=540, x_range=Range1d(2.58, 2.70), y_range=Range1d(0, 0.6),
           output_backend="svg", toolbar_location=None, title=TITLE,
           x_axis_label=X_LABEL, y_axis_label=Y_LABEL,
           min_border_left=59, min_border_right=14, min_border_top=38, min_border_bottom=48)
p.background_fill_color = "white"
p.border_fill_color = "white"
p.outline_line_color = None
p.xgrid.visible = False
p.ygrid.visible = False

p.title.align = "center"
p.title.text_font = FONT
p.title.text_font_size = "18px"
p.title.text_font_style = "normal"
p.title.text_color = "black"
p.title.standoff = 14

for ax, ticks, labels in ((p.xaxis[0], x_ticks, x_tick_labels), (p.yaxis[0], y_ticks, y_tick_labels)):
    ax.ticker = FixedTicker(ticks=ticks)
    ax.major_label_overrides = dict(zip(ticks, labels))
    ax.major_tick_in = 5
    ax.major_tick_out = 0
    ax.minor_tick_line_color = None
    ax.major_label_text_font = FONT
    ax.major_label_text_font_size = "17px"
    ax.major_label_text_color = "black"
    ax.axis_label_text_font = FONT
    ax.axis_label_text_font_size = "19px"
    ax.axis_label_text_font_style = "normal"
    ax.axis_label_text_color = "black"
    ax.major_label_standoff = 4
    ax.axis_label_standoff = 0

p.xaxis[0].axis_line_color = "#8c8c8c"
p.xaxis[0].major_tick_line_color = "#8c8c8c"
p.yaxis[0].axis_line_color = "#1a1a1a"
p.yaxis[0].major_tick_line_color = "#1a1a1a"

# box edges: ticks drawn as label-free minor ticks
top_axis = LinearAxis(ticker=FixedTicker(ticks=[], minor_ticks=x_ticks),
                      minor_tick_in=5, minor_tick_out=0, major_tick_in=0, major_tick_out=0,
                      axis_line_color="#8c8c8c", minor_tick_line_color="#8c8c8c", major_label_standoff=0)
right_axis = LinearAxis(ticker=FixedTicker(ticks=[], minor_ticks=y_ticks),
                        minor_tick_in=5, minor_tick_out=0, major_tick_in=0, major_tick_out=0,
                        axis_line_color="black", axis_line_width=1.5, minor_tick_line_color="#555555",
                        major_label_standoff=0)
p.add_layout(top_axis, "above")
p.add_layout(right_axis, "right")

# blue plus markers (also inside every ring)
p.scatter(xs(pluses), ys(pluses), marker="cross", size=10, line_color=BLUE, line_width=1.2, line_alpha=0.9)
p.scatter(xs(ringed), ys(ringed), marker="cross", size=10, line_color=BLUE, line_width=1.2, line_alpha=0.9)
p.scatter(xs(stars), ys(stars), marker="asterisk", size=9, line_color=BLUE, line_width=1.2, line_alpha=0.95)
# black dots
p.scatter(xs(dots), ys(dots), marker="circle", size=3.5, fill_color="black", line_color=None)
# rings
p.scatter(xs(red_rings), ys(red_rings), marker="circle", size=11, fill_color=None, line_color="#ff2020", line_width=1)
p.scatter(xs(black_rings), ys(black_rings), marker="circle", size=11, fill_color=None, line_color="black", line_width=1)

# fan of boundary lines
p.multi_line(xs=[line_x for _ in fan_left], ys=[[a, b] for a, b in zip(fan_left, fan_right)],
             line_color=fan_colors, line_width=1)
p.line(line_x, cut_y, line_color="black", line_width=3.2)

open("out.html", "w").write(file_html(p, INLINE))
